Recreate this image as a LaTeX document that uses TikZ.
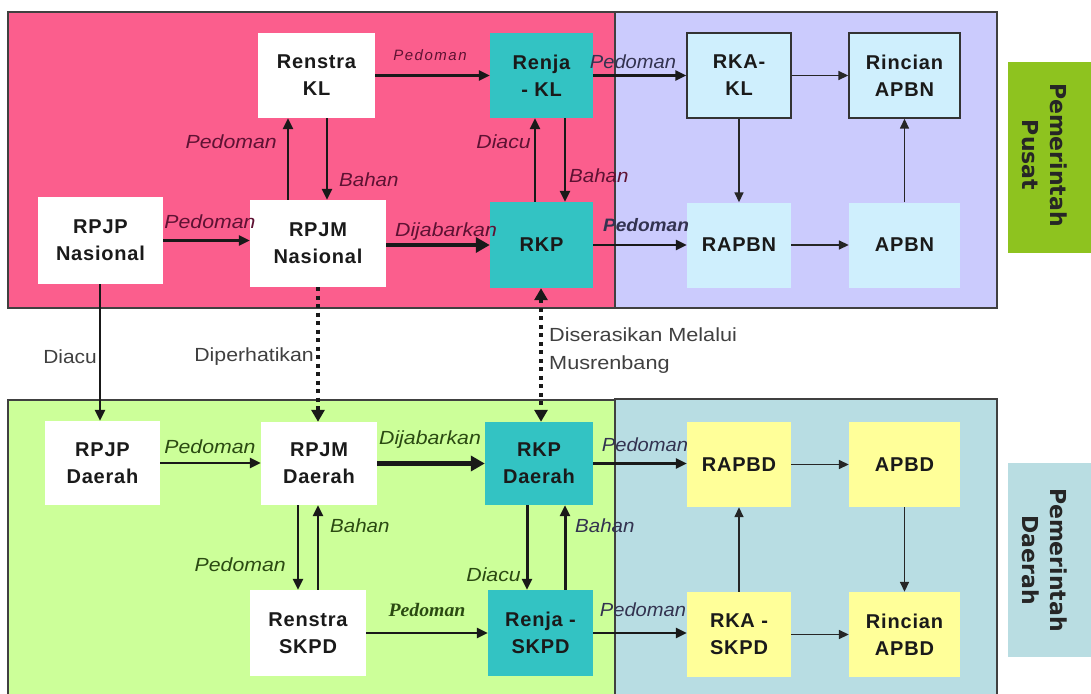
\documentclass[tikz,border=0pt]{standalone}
\usepackage{fontspec}
\usepackage{graphicx}
\setmainfont{Liberation Sans}
\newfontfamily\boxfont{Liberation Sans}[LetterSpace=4]
\newfontfamily\sidefont{DejaVu Sans}
\newfontfamily\seriffont{Liberation Serif}
\newfontfamily\spacedfont{Liberation Sans}[LetterSpace=10]
\newcommand\hs[2]{\scalebox{#1}[1]{#2}}
\usetikzlibrary{arrows.meta}
\definecolor{pinkbg}{HTML}{FB5E8D}
\definecolor{purplebg}{HTML}{CBCBFD}
\definecolor{greenbg}{HTML}{CCFF99}
\definecolor{bluebg}{HTML}{B8DDE3}
\definecolor{tealbox}{HTML}{33C3C3}
\definecolor{lightbluebox}{HTML}{CFEFFD}
\definecolor{yellowbox}{HTML}{FFFF99}
\definecolor{sidegreen}{HTML}{8EC31F}
\definecolor{sideblue}{HTML}{B9DDE2}
\definecolor{maroontext}{HTML}{5E1233}
\definecolor{greentext}{HTML}{2B4A12}
\definecolor{graytext}{HTML}{404040}
\definecolor{slatetext}{HTML}{333350}
\definecolor{boxtext}{HTML}{1A1A1A}
\begin{document}
\begin{tikzpicture}[x=1pt,y=-1pt,
  box/.style={inner sep=0pt, align=center, text=boxtext,
    font=\boxfont\bfseries\fontsize{20}{27}\selectfont},
  framed/.style={draw=black!80, line width=1.4pt},
  lbl/.style={inner sep=0pt, font=\itshape\fontsize{19}{20}\selectfont},
  grl/.style={inner sep=0pt, text=graytext, font=\fontsize{19}{28}\selectfont},
  region/.style={draw=black!75, line width=1.2pt},
  arr/.style={-{Triangle[length=11pt,width=10pt]}, line width=2.4pt, draw=black!90},
  thinarr/.style={-{Triangle[length=10pt,width=9pt]}, line width=1.6pt, draw=black!85},
  bigarr/.style={-{Triangle[length=14pt,width=15pt]}, line width=4.5pt, draw=black!90},
  dotarr/.style={-{Triangle[length=12pt,width=13pt]}, line width=4.5pt, dash pattern=on 4pt off 4.5pt, draw=black!90},
  dotarrboth/.style={{Triangle[length=12pt,width=13pt]}-{Triangle[length=12pt,width=13pt]}, line width=4.5pt, dash pattern=on 4pt off 4.5pt, draw=black!90},
  sidelbl/.style={inner sep=0pt, align=center, rotate=-90, text=black!85,
    font=\sidefont\bfseries\fontsize{22}{28}\selectfont}
]
\useasboundingbox (0,0) rectangle (1091,693);
% regions
\fill[white] (0,0) rectangle (1091,693);
\filldraw[region, fill=pinkbg] (8,12) rectangle (615,308);
\filldraw[region, fill=purplebg] (615,12) rectangle (997,308);
\filldraw[region, fill=greenbg] (8,400) rectangle (615,705);
\filldraw[region, fill=bluebg] (615,399) rectangle (997,705);
% side labels
\fill[sidegreen] (1008,62) rectangle (1100,253);
\fill[sideblue] (1008,463) rectangle (1100,657);
\node[sidelbl] (pusat) at (1045,155) {Pemerintah\\Pusat};
\node[sidelbl] (daerah) at (1045,560) {Pemerintah\\Daerah};
% top nodes
\node[box, fill=white, minimum width=117pt, minimum height=85pt] (renstrakl) at (316.5,75.5) {Renstra\\KL};
\node[box, fill=tealbox, minimum width=103pt, minimum height=85pt] (renjakl) at (541.5,75.5) {Renja\\- KL};
\node[box, fill=lightbluebox, framed, minimum width=104pt, minimum height=85pt] (rkakl) at (739,75.5) {RKA-\\KL};
\node[box, fill=lightbluebox, framed, minimum width=111pt, minimum height=85pt] (rincn) at (904.5,75.5) {Rincian\\APBN};
\node[box, fill=white, minimum width=125pt, minimum height=87pt] (rpjpn) at (100.5,240.5) {RPJP\\Nasional};
\node[box, fill=white, minimum width=136pt, minimum height=87pt] (rpjmn) at (318,243.5) {RPJM\\Nasional};
\node[box, fill=tealbox, minimum width=103pt, minimum height=86pt] (rkp) at (541.5,245) {RKP};
\node[box, fill=lightbluebox, minimum width=104pt, minimum height=85pt] (rapbn) at (739,245) {RAPBN};
\node[box, fill=lightbluebox, minimum width=111pt, minimum height=85pt] (apbn) at (904.5,245) {APBN};
% bottom nodes
\node[box, fill=white, minimum width=115pt, minimum height=84pt] (rpjpd) at (102.5,463) {RPJP\\Daerah};
\node[box, fill=white, minimum width=116pt, minimum height=83pt] (rpjmd) at (319,463.5) {RPJM\\Daerah};
\node[box, fill=tealbox, minimum width=108pt, minimum height=83pt] (rkpd) at (539,463.5) {RKP\\Daerah};
\node[box, fill=yellowbox, minimum width=104pt, minimum height=85pt] (rapbd) at (739,464.5) {RAPBD};
\node[box, fill=yellowbox, minimum width=111pt, minimum height=85pt] (apbd) at (904.5,464.5) {APBD};
\node[box, fill=white, minimum width=116pt, minimum height=86pt] (renstraskpd) at (308,633) {Renstra\\SKPD};
\node[box, fill=tealbox, minimum width=105pt, minimum height=86pt] (renjaskpd) at (540.5,633) {Renja -\\SKPD};
\node[box, fill=yellowbox, minimum width=104pt, minimum height=85pt] (rkaskpd) at (739,634.5) {RKA -\\SKPD};
\node[box, fill=yellowbox, minimum width=111pt, minimum height=85pt] (rincd) at (904.5,634.5) {Rincian\\APBD};
% x positions for vertical connectors
\coordinate (x100) at (100,0);
\coordinate (x288) at (288,0);
\coordinate (x327) at (327,0);
\coordinate (x318) at (318,0);
\coordinate (x535) at (535,0);
\coordinate (x565) at (565,0);
\coordinate (x540) at (541,0);
\coordinate (x298) at (298,0);
\coordinate (x527) at (527,0);
% top connectors
\draw[arr] (renstrakl.east) -- (renjakl.west);
\draw[arr] (renjakl.east) -- (rkakl.west);
\draw[thinarr] (rkakl.east) -- (rincn.west);
\draw[thinarr] (rkakl.south) -- (rapbn.north);
\draw[thinarr] (apbn.north) -- (rincn.south);
\draw[thinarr] (rapbn.east) -- (apbn.west);
\draw[arr] (rkp.east) -- (rapbn.west);
\draw[arr] (rpjpn.east) -- (rpjpn.east -| rpjmn.west);
\draw[bigarr] (rkp.west -| rpjmn.east) -- (rkp.west);
\draw[arr] (rpjmn.north -| x288) -- (renstrakl.south -| x288);
\draw[arr] (renstrakl.south -| x327) -- (rpjmn.north -| x327);
\draw[arr] (rkp.north -| x535) -- (renjakl.south -| x535);
\draw[arr] (renjakl.south -| x565) -- (rkp.north -| x565);
% cross connectors
\draw[arr] (rpjpn.south -| x100) -- (rpjpd.north -| x100);
\draw[dotarr] (rpjmn.south -| x318) -- (rpjmd.north -| x318);
\draw[dotarrboth] (rkp.south -| x540) -- (rkpd.north -| x540);
% bottom connectors
\draw[arr] (rpjpd.east) -- (rpjpd.east -| rpjmd.west);
\draw[bigarr] (rpjmd.east) -- (rpjmd.east -| rkpd.west);
\draw[arr] (rkpd.east) -- (rkpd.east -| rapbd.west);
\draw[thinarr] (rapbd.east) -- (apbd.west);
\draw[thinarr] (apbd.south) -- (rincd.north);
\draw[thinarr] (rkaskpd.north) -- (rapbd.south);
\draw[thinarr] (rkaskpd.east) -- (rincd.west);
\draw[arr] (renjaskpd.east) -- (renjaskpd.east -| rkaskpd.west);
\draw[arr] (renstraskpd.east) -- (renstraskpd.east -| renjaskpd.west);
\draw[arr] (rpjmd.south -| x298) -- (renstraskpd.north -| x298);
\draw[arr] (renstraskpd.north -| x318) -- (rpjmd.south -| x318);
\draw[arr, line width=3pt] (rkpd.south -| x527) -- (renjaskpd.north -| x527);
\draw[arr, line width=3pt] (renjaskpd.north -| x565) -- (rkpd.south -| x565);
% labels top
\node[inner sep=0pt, text=maroontext, font=\spacedfont\itshape\fontsize{15}{16}\selectfont] (l1) at (430,55) {Pedoman};
\node[lbl, text=slatetext] (l2) at (633,62) {\hs{1.06}{Pedoman}};
\node[lbl, text=maroontext, anchor=east] (l3) at (277,142) {\hs{1.12}{Pedoman}};
\node[lbl, text=maroontext, anchor=west] (l4) at (339,180) {\hs{1.08}{Bahan}};
\node[lbl, text=maroontext] (l5) at (210,222) {\hs{1.12}{Pedoman}};
\node[lbl, text=maroontext] (l6) at (446,232) {\hs{1.12}{Dijabarkan}};
\node[lbl, text=maroontext, anchor=east] (l7) at (531,142) {\hs{1.12}{Diacu}};
\node[lbl, text=maroontext, anchor=west] (l8) at (569,176) {\hs{1.08}{Bahan}};
\node[lbl, text=slatetext, font=\bfseries\itshape\fontsize{18}{20}\selectfont] (l9) at (646,225) {\hs{1.06}{Pedoman}};
% labels middle
\node[grl, anchor=east] (l10) at (97,357) {\hs{1.1}{Diacu}};
\node[grl, anchor=east] (l11) at (314,357) {\hs{1.12}{Diperhatikan}};
\node[grl, anchor=north west, align=left] (l12) at (549,328) {\hs{1.14}{Diserasikan Melalui}\\\hs{1.14}{Musrenbang}};
% labels bottom
\node[lbl, text=greentext] (l13) at (210,447) {\hs{1.12}{Pedoman}};
\node[lbl, text=greentext] (l14) at (430,440) {\hs{1.12}{Dijabarkan}};
\node[lbl, text=slatetext] (l15) at (645,445) {\hs{1.06}{Pedoman}};
\node[lbl, text=greentext, anchor=east] (l16) at (286,565) {\hs{1.12}{Pedoman}};
\node[lbl, text=greentext, anchor=west] (l17) at (330,526) {\hs{1.08}{Bahan}};
\node[lbl, text=greentext, anchor=east] (l18) at (521,575) {\hs{1.12}{Diacu}};
\node[lbl, text=slatetext, anchor=west] (l19) at (575,526) {\hs{1.08}{Bahan}};
\node[inner sep=0pt, text=greentext, font=\seriffont\bfseries\itshape\fontsize{19}{20}\selectfont] (l20) at (427,610) {\hs{1.04}{Pedoman}};
\node[lbl, text=slatetext] (l21) at (643,610) {\hs{1.06}{Pedoman}};
\end{tikzpicture}
\end{document}
